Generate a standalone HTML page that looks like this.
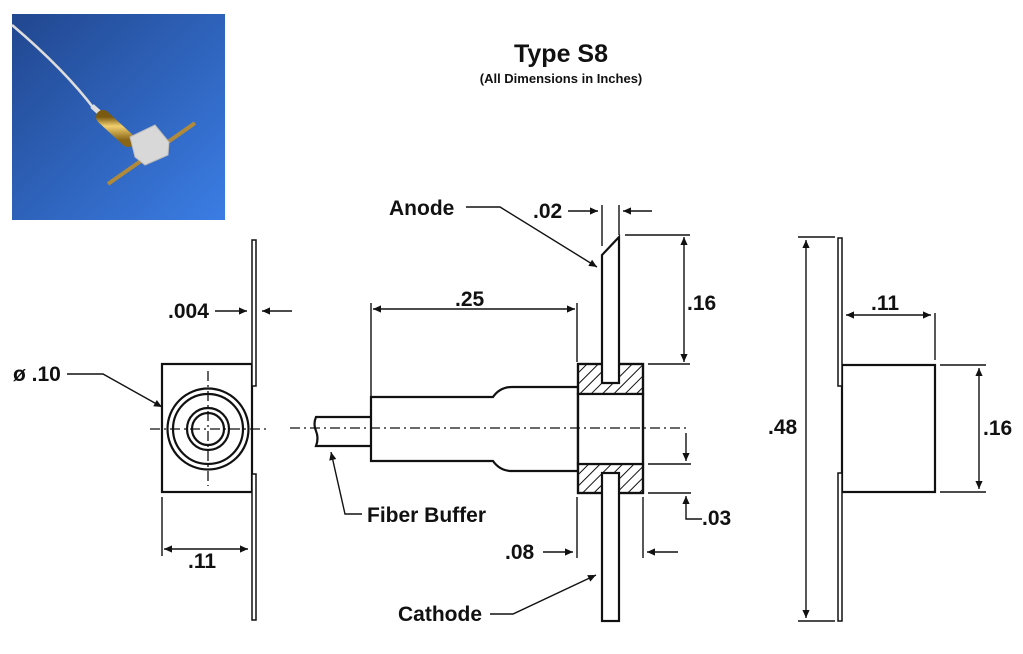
<!DOCTYPE html>
<html><head><meta charset="utf-8"><style>
html,body{margin:0;padding:0;background:#fff;width:1023px;height:654px;overflow:hidden}
svg text{font-family:"Liberation Sans",sans-serif;font-weight:bold;fill:#111}
</style></head><body>
<svg width="1023" height="654" viewBox="0 0 1023 654" xmlns="http://www.w3.org/2000/svg">
<defs>
<linearGradient id="bg" x1="0" y1="0" x2="1" y2="1">
<stop offset="0" stop-color="#21478f"/><stop offset="1" stop-color="#3b7de4"/></linearGradient>
<linearGradient id="gold" x1="0" y1="0" x2="0" y2="1">
<stop offset="0" stop-color="#7a5a10"/><stop offset="0.4" stop-color="#f2d070"/><stop offset="1" stop-color="#8a6515"/></linearGradient>
<pattern id="hatch" width="8" height="8" patternUnits="userSpaceOnUse" patternTransform="rotate(45)">
<rect width="8" height="8" fill="#fff"/><line x1="0" y1="0" x2="0" y2="8" stroke="#111" stroke-width="2"/></pattern>
<marker id="ar" viewBox="0 0 10 10" refX="10" refY="5" markerWidth="12" markerHeight="8" orient="auto-start-reverse" markerUnits="userSpaceOnUse"><path d="M0,0.5 L10,5 L0,9.5 Z" fill="#111"/></marker>
</defs>
<!-- photo -->
<rect x="12" y="14" width="213" height="206" fill="url(#bg)"/>
<path d="M12,25 Q65,70 95,110" stroke="#ddd" stroke-width="2.5" fill="none"/>
<path d="M92,106 L102,115" stroke="#ddd" stroke-width="5"/>
<path d="M103,117 L128,140" stroke="url(#gold)" stroke-width="14" stroke-linecap="round"/>
<path d="M108,184 L195,123" stroke="#b08a3a" stroke-width="4"/>
<path d="M130,137 L155,125 L169,142 L168,155 L145,165 L135,157 Z" fill="#d8d8d8" stroke="#bbb"/>
<g stroke="#111" stroke-width="2.2" fill="none">
<!-- LEFT VIEW -->
<rect x="162" y="364" width="90" height="128" fill="#fff"/>
<rect x="252" y="240" width="4" height="146" stroke-width="1.5" fill="#fff"/>
<rect x="252" y="474" width="4" height="146" stroke-width="1.5" fill="#fff"/>
<circle cx="208" cy="429" r="40.5"/><circle cx="208" cy="429" r="35"/>
<circle cx="208" cy="429" r="21"/><circle cx="208" cy="429" r="16"/>
<line x1="150" y1="429" x2="268" y2="429" stroke-width="1.3" stroke-dasharray="10,4,2,4"/>
<line x1="208" y1="371" x2="208" y2="486" stroke-width="1.3" stroke-dasharray="10,4,2,4"/>
<line x1="215" y1="311" x2="247" y2="311" stroke-width="1.4" marker-end="url(#ar)"/>
<line x1="292" y1="311" x2="262" y2="311" stroke-width="1.4" marker-end="url(#ar)"/>
<polyline points="67,374 103,374 162,407" stroke-width="1.4" marker-end="url(#ar)"/>
<line x1="162" y1="497" x2="162" y2="556" stroke-width="1.4"/>
<line x1="164" y1="549" x2="248" y2="549" stroke-width="1.4" marker-start="url(#ar)" marker-end="url(#ar)"/>
<!-- MIDDLE VIEW -->
<path d="M371,417 L316,417 Q313,424 316,431 Q319,438 316,446 L371,446"/>
<path d="M371,397 L493,397 Q500,387 512,387 L578,387 L578,471 L512,471 Q500,471 493,461 L371,461 Z" fill="#fff"/>
<rect x="578" y="364" width="65" height="30" fill="url(#hatch)"/>
<rect x="578" y="464" width="65" height="29" fill="url(#hatch)"/>
<rect x="578" y="394" width="65" height="70" fill="#fff"/>
<rect x="578" y="364" width="65" height="129"/>
<path d="M602,383 L602,255 L619,237 L619,383 Z" fill="#fff"/>
<rect x="602" y="473" width="17" height="148" fill="#fff"/>
<line x1="290" y1="428" x2="686" y2="428" stroke-width="1.3" stroke-dasharray="10,4,2,4"/>
<line x1="371" y1="303" x2="371" y2="396" stroke-width="1.4"/>
<line x1="577" y1="303" x2="577" y2="362" stroke-width="1.4"/>
<line x1="373" y1="309" x2="575" y2="309" stroke-width="1.4" marker-start="url(#ar)" marker-end="url(#ar)"/>
<line x1="602" y1="205" x2="602" y2="246" stroke-width="1.4"/>
<line x1="619" y1="205" x2="619" y2="235" stroke-width="1.4"/>
<line x1="568" y1="211" x2="598" y2="211" stroke-width="1.4" marker-end="url(#ar)"/>
<line x1="652" y1="211" x2="623" y2="211" stroke-width="1.4" marker-end="url(#ar)"/>
<polyline points="466,207 500,207 597,267" stroke-width="1.4" marker-end="url(#ar)"/>
<line x1="625" y1="235" x2="690" y2="235" stroke-width="1.4"/>
<line x1="648" y1="364" x2="690" y2="364" stroke-width="1.4"/>
<line x1="684" y1="237" x2="684" y2="362" stroke-width="1.4" marker-start="url(#ar)" marker-end="url(#ar)"/>
<line x1="648" y1="464" x2="691" y2="464" stroke-width="1.4"/>
<line x1="648" y1="493" x2="691" y2="493" stroke-width="1.4"/>
<line x1="686" y1="433" x2="686" y2="461" stroke-width="1.4" marker-end="url(#ar)"/>
<polyline points="702,519 686,519 686,496" stroke-width="1.4" marker-end="url(#ar)"/>
<line x1="577" y1="497" x2="577" y2="558" stroke-width="1.4"/>
<line x1="643" y1="497" x2="643" y2="558" stroke-width="1.4"/>
<line x1="543" y1="552" x2="573" y2="552" stroke-width="1.4" marker-end="url(#ar)"/>
<line x1="678" y1="552" x2="647" y2="552" stroke-width="1.4" marker-end="url(#ar)"/>
<polyline points="490,614 513,614 596,575" stroke-width="1.4" marker-end="url(#ar)"/>
<polyline points="362,514 345,514 331,452" stroke-width="1.4" marker-end="url(#ar)"/>
<!-- RIGHT VIEW -->
<rect x="842" y="365" width="93" height="127"/>
<rect x="838" y="238" width="4" height="148" stroke-width="1.5" fill="#fff"/>
<rect x="838" y="473" width="4" height="148" stroke-width="1.5" fill="#fff"/>
<line x1="798" y1="237" x2="835" y2="237" stroke-width="1.4"/>
<line x1="798" y1="621" x2="835" y2="621" stroke-width="1.4"/>
<line x1="806" y1="240" x2="806" y2="618" stroke-width="1.4" marker-start="url(#ar)" marker-end="url(#ar)"/>
<line x1="935" y1="313" x2="935" y2="360" stroke-width="1.4"/>
<line x1="846" y1="315" x2="931" y2="315" stroke-width="1.4" marker-start="url(#ar)" marker-end="url(#ar)"/>
<line x1="940" y1="365" x2="986" y2="365" stroke-width="1.4"/>
<line x1="940" y1="492" x2="986" y2="492" stroke-width="1.4"/>
<line x1="979" y1="368" x2="979" y2="489" stroke-width="1.4" marker-start="url(#ar)" marker-end="url(#ar)"/>
</g>
<text x="561" y="62" font-size="25" text-anchor="middle">Type S8</text>
<text x="561" y="83" font-size="13" text-anchor="middle">(All Dimensions in Inches)</text>
<g font-size="21">
<text x="168" y="318">.004</text>
<text x="13" y="381">ø .10</text>
<text x="188" y="568">.11</text>
<text x="389" y="215">Anode</text>
<text x="533" y="218">.02</text>
<text x="455" y="306">.25</text>
<text x="687" y="310">.16</text>
<text x="367" y="522">Fiber Buffer</text>
<text x="702" y="525">.03</text>
<text x="505" y="559">.08</text>
<text x="398" y="621">Cathode</text>
<text x="768" y="434">.48</text>
<text x="871" y="310">.11</text>
<text x="983" y="435">.16</text>
</g>
</svg>
</body></html>
